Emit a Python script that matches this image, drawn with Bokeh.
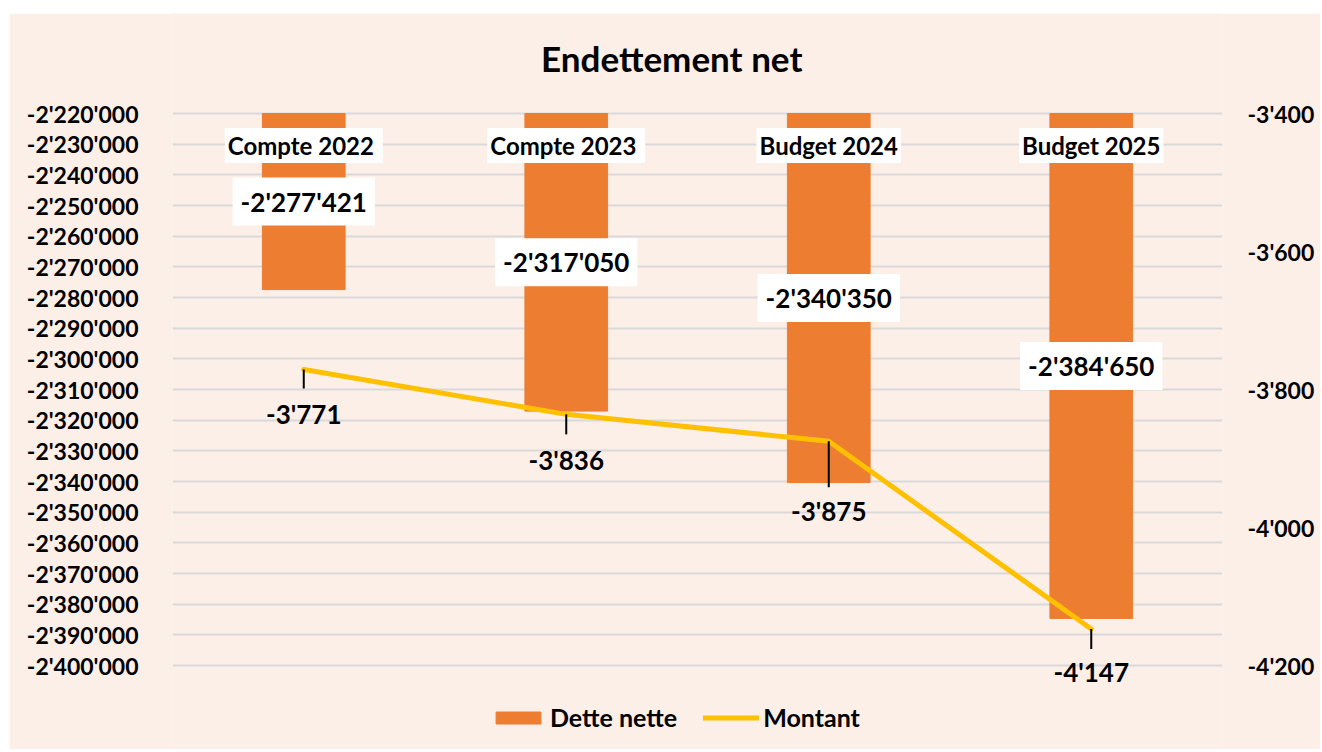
import math
from bokeh.plotting import figure
from bokeh.layouts import row, column
from bokeh.models import (ColumnDataSource, FactorRange, Range1d, LinearAxis, FixedTicker,
                          CustomJSTickFormatter, Legend, LegendItem, LabelSet, Spacer)
from bokeh.core.properties import value
from bokeh.embed import file_html
from bokeh.resources import INLINE

# ---- data ----
title_text = "Endettement net"
categories = ["Compte  2022", "Compte  2023", "Budget 2024", "Budget 2025"]
dette_nette = [-2277421, -2317050, -2340350, -2384650]
montant = [-3771, -3836, -3875, -4147]

left_ticks = list(range(-2400000, -2219999, 10000))
right_ticks = [-4200, -4000, -3800, -3600, -3400]

# label placement (styles)
line_label_offsets = [-45, -46, -70, -43]
leader_lengths = [19, 20, 46, 20]

FONT = "Lato"
BG = "#FCEFE8"
BAR = "#ED7D31"
LINE = "#FFC000"

def fmt(v):
    return f"{v:,}".replace(",", "'")

# layout geometry (pixels)
GRID_H = 552      # height of the gridded area
PAD_BOTTOM = 80   # area below the grid for the legend and bottom label
PAD_TOP = 100     # area above the grid for the title
FRAME_H = GRID_H + PAD_BOTTOM + PAD_TOP

y_top = left_ticks[-1]
y_bottom = left_ticks[0]
l_span = (y_top - y_bottom) / GRID_H
r_top, r_bottom = right_ticks[-1], right_ticks[0]
r_span = (r_top - r_bottom) / GRID_H

p = figure(frame_width=1050, frame_height=FRAME_H,
           x_range=FactorRange(factors=categories, range_padding=0),
           y_range=Range1d(y_bottom - l_span * PAD_BOTTOM, y_top + l_span * PAD_TOP),
           output_backend="svg", toolbar_location=None,
           min_border_left=163, min_border_right=98, min_border_top=0, min_border_bottom=4)
p.background_fill_color = BG
p.border_fill_color = BG
p.outline_line_color = None

p.extra_y_ranges = {"right": Range1d(r_bottom - r_span * PAD_BOTTOM, r_top + r_span * PAD_TOP)}

p.xaxis.visible = False
p.xgrid.visible = False

yfmt = CustomJSTickFormatter(code="""
const s = Math.abs(Math.round(tick)).toString().replace(/\\B(?=(\\d{3})+(?!\\d))/g, "'");
return (tick < 0 ? '-' : '') + s;
""")

ax = p.yaxis[0]
ax.ticker = FixedTicker(ticks=left_ticks)
ax.formatter = yfmt
ax.axis_line_color = None
ax.major_tick_line_color = None
ax.minor_tick_line_color = None
ax.major_label_text_font = FONT
ax.major_label_text_font_style = "bold"
ax.major_label_text_font_size = "23px"
ax.major_label_text_color = "black"
ax.major_label_standoff = 28

rax = LinearAxis(y_range_name="right", ticker=FixedTicker(ticks=right_ticks), formatter=yfmt)
rax.axis_line_color = None
rax.major_tick_line_color = None
rax.minor_tick_line_color = None
rax.major_label_text_font = FONT
rax.major_label_text_font_style = "bold"
rax.major_label_text_font_size = "23px"
rax.major_label_text_color = "black"
rax.major_label_standoff = 19
p.add_layout(rax, "right")

p.ygrid.grid_line_color = "#D9D9D9"
p.ygrid.grid_line_width = 2
p.ygrid.ticker = FixedTicker(ticks=left_ticks)

src = ColumnDataSource(dict(
    cat=categories,
    val=dette_nette,
    top=[y_top] * len(categories),
    mid=[(y_top + v) / 2 for v in dette_nette],
    vlabel=[fmt(v) for v in dette_nette],
    mont=montant,
    mlabel=[fmt(v) for v in montant],
    moff=line_label_offsets,
    lead=leader_lengths,
))

bars = p.vbar(x="cat", top="top", bottom="val", width=0.315, color=BAR, source=src)
line = p.line(x="cat", y="mont", y_range_name="right", line_color=LINE, line_width=5,
              line_cap="round", line_join="round", source=src)

# leader lines
p.ray(x="cat", y="mont", length="lead", length_units="screen", angle=-math.pi / 2,
      y_range_name="right", line_color="black", line_width=2, source=src)

# line labels
p.add_layout(LabelSet(x="cat", y="mont", text="mlabel", y_range_name="right", y_offset="moff",
                      text_align="center", text_baseline="middle", text_font=value(FONT),
                      text_font_style="bold", text_font_size="26px", text_color="black",
                      source=src))

# bar value labels
p.text(x="cat", y="mid", text="vlabel", text_align="center", text_baseline="middle",
       text_font=value(FONT), text_font_style="bold", text_font_size="26px",
       text_color="black", background_fill_color="white", padding=[8, 8, 8, 8], source=src)

# category labels
p.text(x="cat", y="top", text="cat", y_offset=32, text_align="center", text_baseline="middle",
       text_font=value(FONT), text_font_style="bold", text_font_size="24px",
       text_color="black", background_fill_color="white", padding=[3, 3, 3, 3], source=src)

# chart title (drawn in the reserved top area)
p.text(x=[categories[2]], y=[y_top], text=[title_text], x_offset=-157, y_offset=-56,
       text_align="center", text_baseline="middle", text_font=value(FONT),
       text_font_style="bold", text_font_size="35px", text_color="black")

legend = Legend(items=[LegendItem(label="Dette nette", renderers=[bars]),
                       LegendItem(label="Montant", renderers=[line])],
                orientation="horizontal", location=(318, 13),
                glyph_width=56, glyph_height=15, label_text_font=FONT,
                label_text_font_style="bold", label_text_font_size="25px",
                label_text_color="black", spacing=26, border_line_color=None,
                background_fill_alpha=0, margin=0, padding=0, label_standoff=4)
p.add_layout(legend, "center")

layout = row(Spacer(width=9), column(Spacer(height=13), p))
open("out.html", "w").write(file_html(layout, INLINE))
